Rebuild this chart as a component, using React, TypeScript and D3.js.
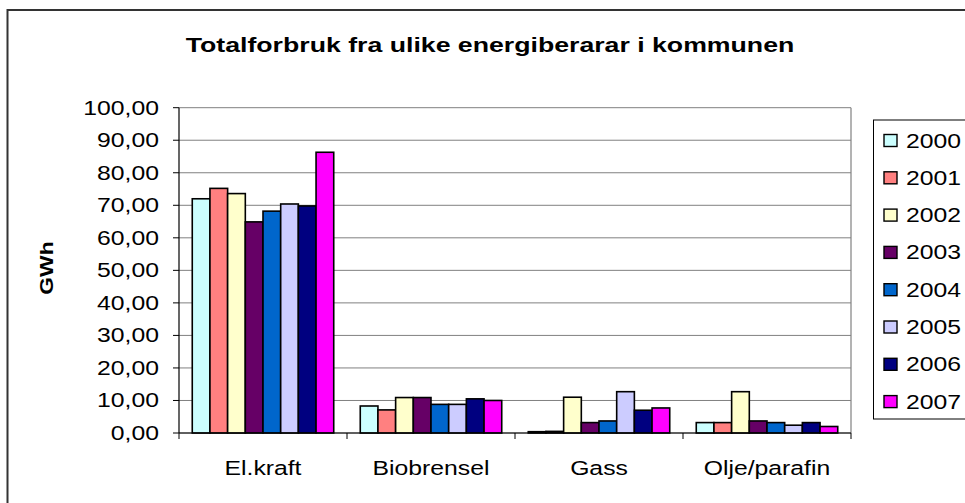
import React from "react";
import * as d3 from "d3";

const categories = ["El.kraft", "Biobrensel", "Gass", "Olje/parafin"];
const years = ["2000", "2001", "2002", "2003", "2004", "2005", "2006", "2007"];
const yearColors = ["#CCFFFF", "#FF8080", "#FFFFCC", "#660066", "#0066CC", "#CCCCFF", "#000080", "#FF00FF"];

// GWh per category, one array per year (same order as categories)
const v2000 = [72.0, 8.3, 0.4, 3.2];
const v2001 = [75.2, 7.1, 0.5, 3.2];
const v2002 = [73.6, 10.9, 11.0, 12.7];
const v2003 = [64.9, 10.9, 3.2, 3.7];
const v2004 = [68.2, 8.8, 3.7, 3.2];
const v2005 = [70.4, 8.8, 12.7, 2.4];
const v2006 = [69.8, 10.5, 7.0, 3.2];
const v2007 = [86.3, 10.0, 7.7, 2.0];
const seriesValues = [v2000, v2001, v2002, v2003, v2004, v2005, v2006, v2007];

const yTicks = [0, 10, 20, 30, 40, 50, 60, 70, 80, 90, 100];

const W = 965, H = 503;
const left = 179, right = 851, top = 107.7, bottom = 433;
const SX = 1.27; // text in the source is stretched horizontally

const fmt = (v: number) => v.toFixed(2).replace(".", ",");

function T({ x, y, rot = 0, anchor = "middle", size = 19.5, bold = false, children }: any) {
  return (
    <text
      transform={`translate(${x},${y}) rotate(${rot}) scale(${SX},1)`}
      textAnchor={anchor}
      fontFamily="Liberation Sans, Arial, sans-serif"
      fontSize={size}
      fontWeight={bold ? "bold" : "normal"}
      fill="#000"
    >
      {children}
    </text>
  );
}

export default function App() {
  const x0 = d3.scaleBand().domain(categories).range([left, right]).padding(0);
  const x1 = d3.scaleBand().domain(years).range([0, x0.bandwidth()]).paddingInner(0).paddingOuter(0.75);
  const y = d3.scaleLinear().domain([0, 100]).range([bottom, top]);

  return (
    <svg width={W} height={H} style={{ position: "absolute", left: 0, top: 0, background: "#fff" }}>
      <rect x={7.5} y={10} width={W + 20} height={H + 20} fill="#fff" stroke="#333" strokeWidth={2} />

      <T x={490} y={52} size={21} bold>Totalforbruk fra ulike energiberarar i kommunen</T>

      {/* gridlines */}
      {yTicks.map((t) => (
        <line key={"g" + t} x1={left} x2={right} y1={y(t)} y2={y(t)} stroke="#808080" strokeWidth={1} />
      ))}
      <line x1={right} x2={right} y1={top} y2={bottom} stroke="#808080" strokeWidth={1.2} />

      {/* bars */}
      {categories.map((c, ci) => (
        <g key={c} transform={`translate(${x0(c)},0)`}>
          {years.map((yr, si) => {
            const v = seriesValues[si][ci];
            return (
              <rect
                key={yr}
                x={x1(yr)}
                y={y(v)}
                width={x1.bandwidth()}
                height={bottom - y(v)}
                fill={yearColors[si]}
                stroke="#000"
                strokeWidth={1.6}
              />
            );
          })}
        </g>
      ))}

      {/* axes */}
      <line x1={left} x2={left} y1={top} y2={bottom} stroke="#000" strokeWidth={1.2} />
      <line x1={left} x2={right} y1={bottom} y2={bottom} stroke="#000" strokeWidth={1.2} />
      {yTicks.map((t) => (
        <g key={"t" + t}>
          <line x1={left - 6} x2={left} y1={y(t)} y2={y(t)} stroke="#000" strokeWidth={1} />
          <T x={159} y={y(t) + 7} anchor="end">{fmt(t)}</T>
        </g>
      ))}
      {[...categories.map((c) => x0(c) as number), right].map((xx, i) => (
        <line key={"xt" + i} x1={xx} x2={xx} y1={bottom} y2={bottom + 6} stroke="#000" strokeWidth={1} />
      ))}
      {categories.map((c) => (
        <T key={"l" + c} x={(x0(c) as number) + x0.bandwidth() / 2} y={475}>{c}</T>
      ))}

      <T x={53} y={268} rot={-90} size={18} bold>GWh</T>

      {/* legend */}
      <rect x={873.5} y={120} width={120} height={299} fill="#fff" stroke="#000" strokeWidth={1} />
      {years.map((yr, i) => {
        const cy = 140 + i * 37.3;
        return (
          <g key={"lg" + yr}>
            <rect x={884} y={cy - 5.5} width={13} height={12} fill={yearColors[i]} stroke="#000" strokeWidth={1.4} />
            <T x={906} y={cy + 7.5} anchor="start">{yr}</T>
          </g>
        );
      })}
    </svg>
  );
}
